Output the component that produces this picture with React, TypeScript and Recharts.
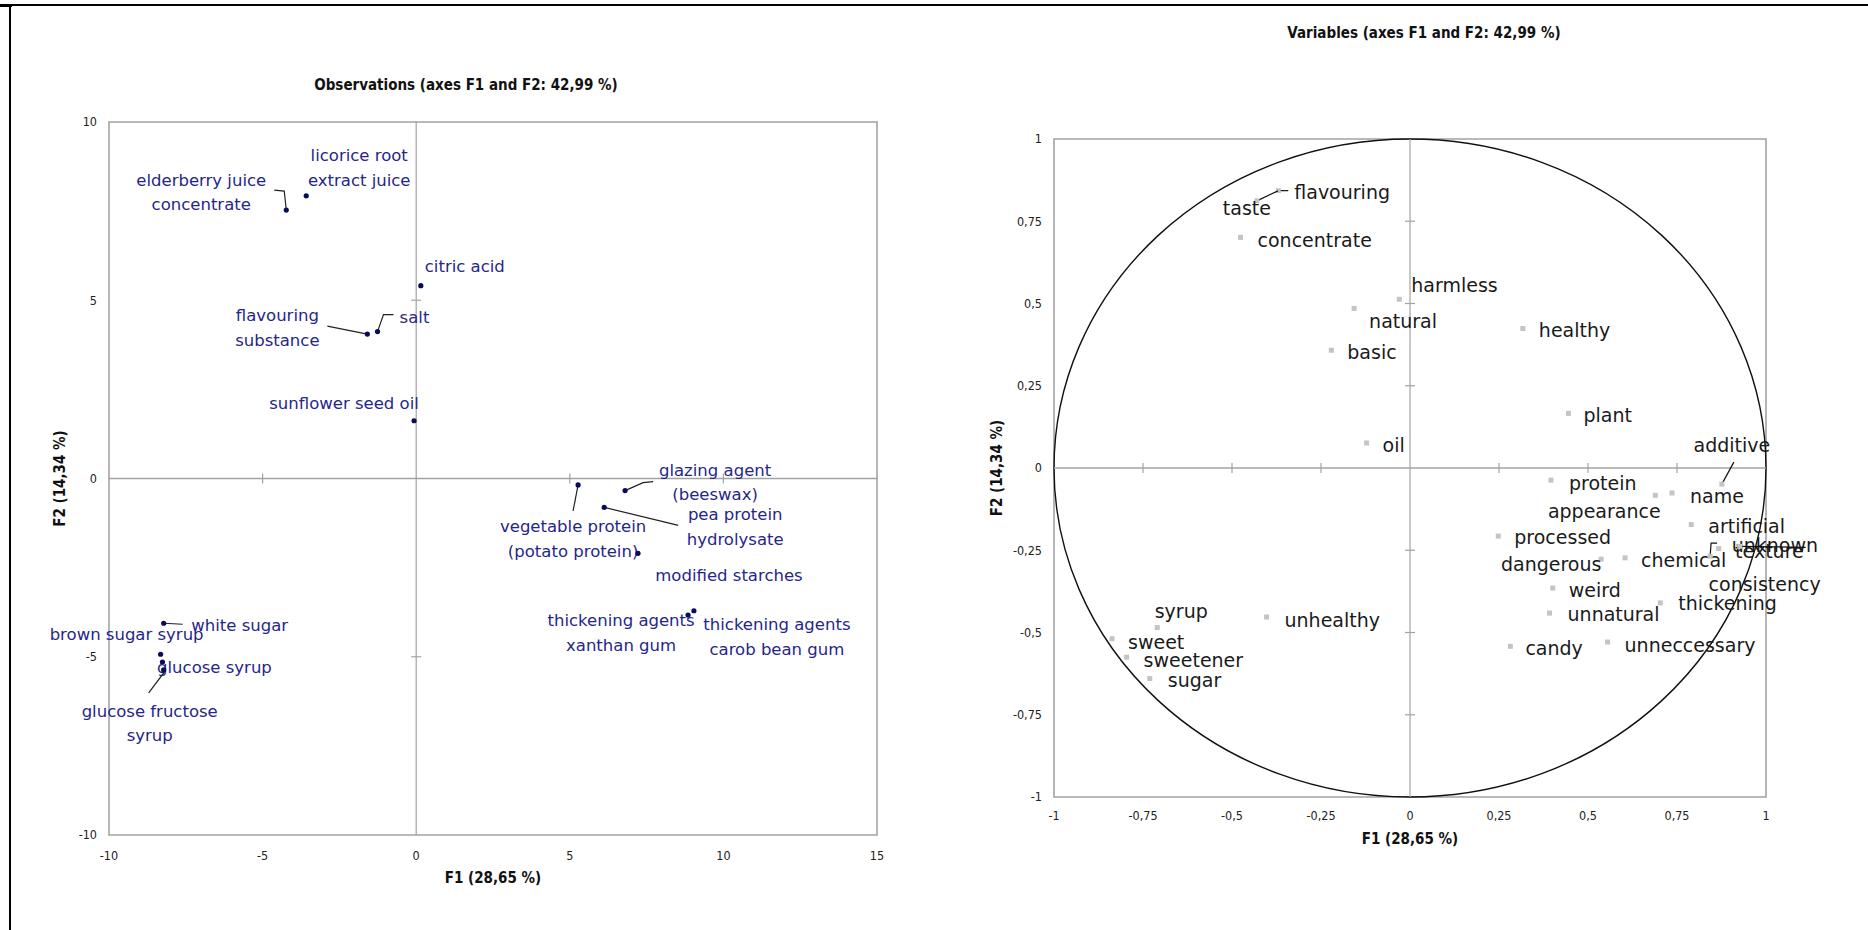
import React from 'react';
import { ScatterChart, Scatter, XAxis, YAxis, ReferenceArea, ReferenceLine, ReferenceDot, Label } from 'recharts';

// Observations map (F1 / F2 scores)
const obsNames = [
  'elderberry juice concentrate', 'licorice root extract juice', 'citric acid', 'flavouring substance',
  'salt', 'sunflower seed oil', 'vegetable protein (potato protein)', 'glazing agent (beeswax)',
  'pea protein hydrolysate', 'modified starches', 'thickening agents xanthan gum',
  'thickening agents carob bean gum', 'white sugar', 'brown sugar syrup', 'glucose syrup',
  'glucose fructose syrup',
];
const obsF1 = [-4.23, -3.58, 0.15, -1.59, -1.26, -0.07, 5.27, 6.8, 6.12, 7.22, 8.85, 9.04, -8.22, -8.32, -8.26, -8.22];
const obsF2 = [7.53, 7.93, 5.41, 4.05, 4.12, 1.62, -0.18, -0.34, -0.81, -2.1, -3.83, -3.71, -4.06, -4.93, -5.15, -5.37];

// Variables map (correlations)
const varNames = [
  'flavouring', 'taste', 'concentrate', 'harmless', 'natural', 'healthy', 'basic', 'plant', 'oil',
  'additive', 'protein', 'appearance', 'name', 'artificial', 'processed', 'dangerous', 'chemical',
  'unknown', 'texture', 'consistency', 'weird', 'thickening', 'unnatural', 'candy', 'unneccessary',
  'syrup', 'unhealthy', 'sweet', 'sweetener', 'sugar',
];
const varF1 = [-0.37, -0.43, -0.476, -0.03, -0.157, 0.317, -0.221, 0.445, -0.122, 0.876, 0.396, 0.689, 0.736, 0.79, 0.248, 0.537, 0.604, 0.867, 0.843, 0.926, 0.401, 0.703, 0.392, 0.282, 0.555, -0.71, -0.403, -0.837, -0.796, -0.731];
const varF2 = [0.843, 0.812, 0.701, 0.513, 0.485, 0.424, 0.358, 0.166, 0.076, -0.049, -0.037, -0.083, -0.076, -0.172, -0.207, -0.277, -0.273, -0.245, -0.268, -0.238, -0.365, -0.41, -0.441, -0.542, -0.529, -0.485, -0.453, -0.519, -0.575, -0.64];

const obsXTicks = [-10, -5, 0, 5, 10, 15];
const obsYTicks = [-10, -5, 0, 5, 10];
const varTicks = [-1, -0.75, -0.5, -0.25, 0, 0.25, 0.5, 0.75, 1];

const obsData = obsNames.map((name, i) => ({ name, x: obsF1[i], y: obsF2[i] }));
const varData = varNames.map((name, i) => ({ name, x: varF1[i], y: varF2[i] }));

type LabelLayout = { lines?: string[]; dx: number; dy: number[]; anchor?: 'start' | 'middle' | 'end'; leader?: number[][] };

// label placement in pixels relative to each point
const obsLabels: Record<string, LabelLayout> = {
  'elderberry juice concentrate': { lines: ['elderberry juice', 'concentrate'], dx: -85, dy: [-30, -6], leader: [[-2, -19], [-12, -20]] },
  'licorice root extract juice': { lines: ['licorice root', 'extract juice'], dx: 53, dy: [-40, -15] },
  'citric acid': { dx: 44, dy: [-19] },
  'flavouring substance': { lines: ['flavouring', 'substance'], dx: -90, dy: [-19, 6], leader: [[-40, -8]] },
  salt: { dx: 37, dy: [-14], leader: [[6, -17], [16, -17]] },
  'sunflower seed oil': { dx: -70, dy: [-17] },
  'vegetable protein (potato protein)': { lines: ['vegetable protein', '(potato protein)'], dx: -5, dy: [42, 67], leader: [[-5, 26]] },
  'glazing agent (beeswax)': { lines: ['glazing agent', '(beeswax)'], dx: 90, dy: [-20, 4], leader: [[18, -8], [28, -9]] },
  'pea protein hydrolysate': { lines: ['pea protein', 'hydrolysate'], dx: 131, dy: [7, 32], leader: [[66, 16], [74, 18]] },
  'modified starches': { dx: 91, dy: [22] },
  'thickening agents xanthan gum': { lines: ['thickening agents', 'xanthan gum'], dx: -67, dy: [5, 30] },
  'thickening agents carob bean gum': { lines: ['thickening agents', 'carob bean gum'], dx: 83, dy: [14, 39] },
  'white sugar': { dx: 76, dy: [2], leader: [[19, 1]] },
  'brown sugar syrup': { dx: -34, dy: [-20] },
  'glucose syrup': { dx: 52, dy: [5] },
  'glucose fructose syrup': { lines: ['glucose fructose', 'syrup'], dx: -14, dy: [42, 66], leader: [[0, 3], [-15, 23]] },
};

const varLabels: Record<string, LabelLayout> = {
  flavouring: { dx: 16, dy: [1], leader: [[10, 0]] },
  taste: { dx: -10, dy: [7], anchor: 'middle', leader: [[21, -10]] },
  concentrate: { dx: 17, dy: [3] },
  harmless: { dx: 12, dy: [-14] },
  natural: { dx: 15, dy: [13] },
  healthy: { dx: 16, dy: [1] },
  basic: { dx: 16, dy: [2] },
  plant: { dx: 15, dy: [2] },
  oil: { dx: 16, dy: [2] },
  additive: { dx: 10, dy: [-39], anchor: 'middle', leader: [[12, -22]] },
  protein: { dx: 18, dy: [3] },
  appearance: { dx: -51, dy: [16], anchor: 'middle' },
  name: { dx: 18, dy: [3] },
  artificial: { dx: 17, dy: [1] },
  processed: { dx: 16, dy: [1] },
  dangerous: { dx: -50, dy: [5], anchor: 'middle' },
  chemical: { dx: 16, dy: [2] },
  unknown: { dx: 13, dy: [-4] },
  texture: { dx: 25, dy: [-5], leader: [[1, -13], [7, -13]] },
  consistency: { dx: 25, dy: [38], anchor: 'middle', leader: [[66, 1]] },
  weird: { dx: 16, dy: [2] },
  thickening: { dx: 18, dy: [0] },
  unnatural: { dx: 18, dy: [1] },
  candy: { dx: 15, dy: [2] },
  unneccessary: { dx: 17, dy: [3] },
  syrup: { dx: 24, dy: [-17], anchor: 'middle' },
  unhealthy: { dx: 18, dy: [3] },
  sweet: { dx: 16, dy: [3] },
  sweetener: { dx: 17, dy: [3] },
  sugar: { dx: 18, dy: [1] },
};

const narrow = '"Liberation Sans Narrow", "DejaVu Sans Condensed", "Liberation Sans", sans-serif';
const labelFont = '"DejaVu Sans", sans-serif';
const frameColor = '#a3a3a3';
const fmt = (v: number) => String(v).replace('.', ',');

function leaderPath(cx: number, cy: number, pts?: number[][]) {
  if (!pts) return null;
  return [[0, 0], ...pts].map(([a, b]) => `${cx + a},${cy + b}`).join(' ');
}

function ObsPoint(props: any) {
  const { cx, cy, payload } = props;
  const lay = obsLabels[payload.name];
  const lines = lay.lines || [payload.name];
  const lp = leaderPath(cx, cy, lay.leader);
  return (
    <g>
      {lp && <polyline points={lp} fill="none" stroke="#222" strokeWidth={1.2} />}
      <circle cx={cx} cy={cy} r={2.6} fill="#0a0a5c" />
      {lines.map((t, i) => (
        <text key={i} x={cx + lay.dx} y={cy + lay.dy[i]} textAnchor="middle" dominantBaseline="central"
          fontFamily={labelFont} fontSize={16.5} fill="#26268a">{t}</text>
      ))}
    </g>
  );
}

function VarPoint(props: any) {
  const { cx, cy, payload } = props;
  const lay = varLabels[payload.name];
  const lp = leaderPath(cx, cy, lay.leader);
  return (
    <g>
      {lp && <polyline points={lp} fill="none" stroke="#111" strokeWidth={1.2} />}
      <rect x={cx - 2.5} y={cy - 2.5} width={5} height={5} fill="#c4c4c4" />
      <text x={cx + lay.dx} y={cy + lay.dy[0]} textAnchor={lay.anchor || 'start'} dominantBaseline="central"
        fontFamily={labelFont} fontSize={19} fill="#1a1a1a">{payload.name}</text>
    </g>
  );
}

const vTick = (p: any) => <line x1={p.cx} x2={p.cx} y1={p.cy - 5} y2={p.cy + 5} stroke={frameColor} strokeWidth={1.2} />;
const hTick = (p: any) => <line x1={p.cx - 5} x2={p.cx + 5} y1={p.cy} y2={p.cy} stroke={frameColor} strokeWidth={1.2} />;

const circleShape = (p: any) => (
  <ellipse cx={p.x + p.width / 2} cy={p.y + p.height / 2} rx={p.width / 2} ry={p.height / 2} fill="none" stroke="#111" strokeWidth={1.4} />
);

const tickStyle = { fontFamily: narrow, fontSize: 12.5, fill: '#222' };

function xTitle(dy: number) {
  return (props: any) => {
    const vb = props.viewBox;
    return (
      <text x={vb.x + vb.width / 2} y={vb.y + dy} textAnchor="middle" dominantBaseline="central"
        fontFamily={narrow} fontSize={15} fontWeight="bold" fill="#111">F1 (28,65 %)</text>
    );
  };
}

function yTitle(dx: number) {
  return (props: any) => {
    const vb = props.viewBox;
    const x = vb.x + vb.width - dx;
    const y = vb.y + vb.height / 2;
    return (
      <text x={x} y={y} transform={`rotate(-90 ${x} ${y})`} textAnchor="middle" dominantBaseline="central"
        fontFamily={narrow} fontSize={15} fontWeight="bold" fill="#111">F2 (14,34 %)</text>
    );
  };
}

const titleStyle: React.CSSProperties = {
  position: 'absolute', transform: 'translate(-50%, -50%)', whiteSpace: 'nowrap',
  fontFamily: narrow, fontSize: 15, fontWeight: 'bold', color: '#111',
};

export default function App() {
  return (
    <div style={{ position: 'relative', width: 1868, height: 930, background: '#fff', overflow: 'hidden' }}>
      <style>{'body{margin:0}'}</style>
      <div style={{ position: 'absolute', left: 0, top: 4, width: 1868, height: 1.5, background: '#000' }} />
      <div style={{ position: 'absolute', left: 0, top: 4, width: 12, height: 3, background: '#000' }} />
      <div style={{ position: 'absolute', left: 9, top: 4, width: 1.5, height: 926, background: '#000' }} />

      <div style={{ ...titleStyle, left: 466, top: 85 }}>Observations (axes F1 and F2: 42,99 %)</div>
      <div style={{ ...titleStyle, left: 1424, top: 33 }}>Variables (axes F1 and F2: 42,99 %)</div>

      <div style={{ position: 'absolute', left: 0, top: 0 }}>
        <ScatterChart width={900} height={930} margin={{ top: 122, right: 23, bottom: 35, left: 0 }}>
          <XAxis type="number" dataKey="x" domain={[-10, 15]} ticks={obsXTicks}
            axisLine={false} tickLine={false} tickMargin={10} height={60} tick={tickStyle}>
            <Label content={xTitle(43)} />
          </XAxis>
          <YAxis type="number" dataKey="y" domain={[-10, 10]} ticks={obsYTicks}
            axisLine={false} tickLine={false} tickMargin={6} width={109} tick={tickStyle}>
            <Label content={yTitle(49)} />
          </YAxis>
          <ReferenceArea x1={-10} x2={15} y1={-10} y2={10} fill="none" fillOpacity={0} stroke={frameColor} strokeWidth={1.6} />
          <ReferenceLine x={0} stroke={frameColor} strokeWidth={1.2} />
          <ReferenceLine y={0} stroke={frameColor} strokeWidth={1.6} />
          {obsXTicks.filter((t) => t !== 0 && t !== -10 && t !== 15).map((t) => (
            <ReferenceDot key={'ox' + t} x={t} y={0} r={0} shape={vTick} />
          ))}
          {obsYTicks.filter((t) => t !== 0 && Math.abs(t) !== 10).map((t) => (
            <ReferenceDot key={'oy' + t} x={0} y={t} r={0} shape={hTick} />
          ))}
          <Scatter data={obsData} shape={ObsPoint} isAnimationActive={false} />
        </ScatterChart>
      </div>

      <div style={{ position: 'absolute', left: 940, top: 0 }}>
        <ScatterChart width={928} height={930} margin={{ top: 139, right: 102, bottom: 73, left: 0 }}>
          <XAxis type="number" dataKey="x" domain={[-1, 1]} ticks={varTicks}
            axisLine={false} tickLine={false} tickMargin={8} height={60} tick={tickStyle} tickFormatter={fmt}>
            <Label content={xTitle(42)} />
          </XAxis>
          <YAxis type="number" dataKey="y" domain={[-1, 1]} ticks={varTicks}
            axisLine={false} tickLine={false} tickMargin={6} width={114} tick={tickStyle} tickFormatter={fmt}>
            <Label content={yTitle(57)} />
          </YAxis>
          <ReferenceArea x1={-1} x2={1} y1={-1} y2={1} fill="none" fillOpacity={0} stroke={frameColor} strokeWidth={1.6} />
          <ReferenceLine x={0} stroke={frameColor} strokeWidth={1.2} />
          <ReferenceLine y={0} stroke={frameColor} strokeWidth={1.6} />
          {varTicks.filter((t) => t !== 0 && Math.abs(t) !== 1).map((t) => (
            <ReferenceDot key={'vx' + t} x={t} y={0} r={0} shape={vTick} />
          ))}
          {varTicks.filter((t) => t !== 0 && Math.abs(t) !== 1).map((t) => (
            <ReferenceDot key={'vy' + t} x={0} y={t} r={0} shape={hTick} />
          ))}
          <ReferenceArea x1={-1} x2={1} y1={-1} y2={1} shape={circleShape} />
          <Scatter data={varData} shape={VarPoint} isAnimationActive={false} />
        </ScatterChart>
      </div>
    </div>
  );
}
